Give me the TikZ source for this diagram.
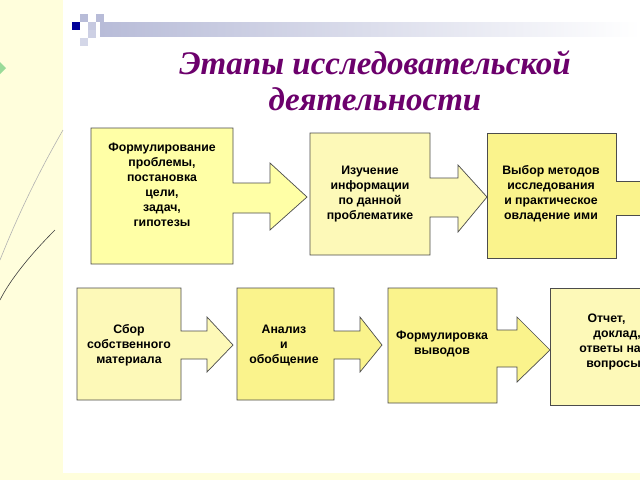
\documentclass[tikz,border=0pt]{standalone}
\usepackage{fontspec}
\setmainfont{Liberation Sans}
\newfontfamily\titlefont{Liberation Serif}
\begin{document}
\begin{tikzpicture}[x=1pt,y=-1pt,
  blk/.style={draw=black!70,line width=0.7pt,fill=#1},
  lbl/.style={font=\bfseries\fontsize{12.3}{15}\selectfont,align=center,inner sep=0pt},
  ttl/.style={font=\titlefont\bfseries\itshape\fontsize{33}{38}\selectfont,text=violet!85!black,align=center}]
\definecolor{bgy}{HTML}{FFFEDC}
\definecolor{yA}{HTML}{FFFFA6}
\definecolor{yB}{HTML}{FAF38C}
\definecolor{yC}{HTML}{FDF9B8}
\definecolor{bar}{HTML}{B8BCD8}
\useasboundingbox (0,0) rectangle (640,480);
\fill[bgy] (0,0) rectangle (640,480);
\fill[white] (63,0) rectangle (640,473);
% swirls
\draw[black!30,line width=0.6pt] (63,130) .. controls (40,170) and (20,210) .. (0,260);
\draw[black!75,line width=0.6pt] (55,230) .. controls (30,255) and (10,280) .. (0,300);
\fill[black!35!green!40] (0,62) -- (6,68) -- (0,74) -- cycle;
% header decoration
\shade[left color=bar,right color=white] (100,22) rectangle (640,36);
\fill[blue!60!black] (72,22) rectangle (80,30);
\fill[bar] (80,14) rectangle (88,22);
\fill[bar!80] (88,22) rectangle (96,30);
\fill[bar] (96,14) rectangle (104,22);
\fill[bar!70] (88,30) rectangle (96,38);
\fill[bar!60] (80,38) rectangle (88,46);
% title
\node[ttl] (title) at (375,81) {Этапы исследовательской\\[-2pt]деятельности};
% row 1
\draw[blk=yA] (91,128) -- (233,128) -- (233,183) -- (270,183) -- (270,163) -- (307,197)
  -- (270,230) -- (270,213) -- (233,213) -- (233,264) -- (91,264) -- cycle;
\node[lbl] (n1) at (162,185) {Формулирование\\проблемы,\\постановка\\цели,\\задач,\\гипотезы};
\draw[blk=yC] (310,133) -- (430,133) -- (430,178) -- (458,178) -- (458,165) -- (487,197)
  -- (458,232) -- (458,217) -- (430,217) -- (430,255) -- (310,255) -- cycle;
\node[lbl] (n2) at (370,194) {Изучение\\информации\\по данной\\проблематике};
\draw[blk=yB] (487,133) -- (616,133) -- (616,181) -- (645,181) -- (645,215) -- (616,215) -- (616,258) -- (487,258) -- cycle;
\node[lbl] (n3) at (551,194) {Выбор методов\\исследования\\и практическое\\овладение ими};
% row 2
\draw[blk=yC] (77,288) -- (181,288) -- (181,331) -- (207,331) -- (207,317) -- (233,345)
  -- (207,372) -- (207,359) -- (181,359) -- (181,400) -- (77,400) -- cycle;
\node[lbl] (n4) at (129,345) {Сбор\\собственного\\материала};
\draw[blk=yB] (237,288) -- (334,288) -- (334,331) -- (360,331) -- (360,317) -- (382,345)
  -- (360,372) -- (360,359) -- (334,359) -- (334,400) -- (237,400) -- cycle;
\node[lbl] (n5) at (284,345) {Анализ\\и\\обобщение};
\draw[blk=yB] (388,288) -- (497,288) -- (497,330) -- (517,330) -- (517,317) -- (550,350)
  -- (517,382) -- (517,367) -- (497,367) -- (497,403) -- (388,403) -- cycle;
\node[lbl] (n6) at (442,344) {Формулировка\\выводов};
\draw[blk=yC] (550,288) -- (645,288) -- (645,405) -- (550,405) -- cycle;
\node[lbl,align=right,anchor=north east] (n7) at (641,314) {Отчет,\phantom{ди}\\доклад,\\ответы на\\вопросы};
\end{tikzpicture}
\end{document}
